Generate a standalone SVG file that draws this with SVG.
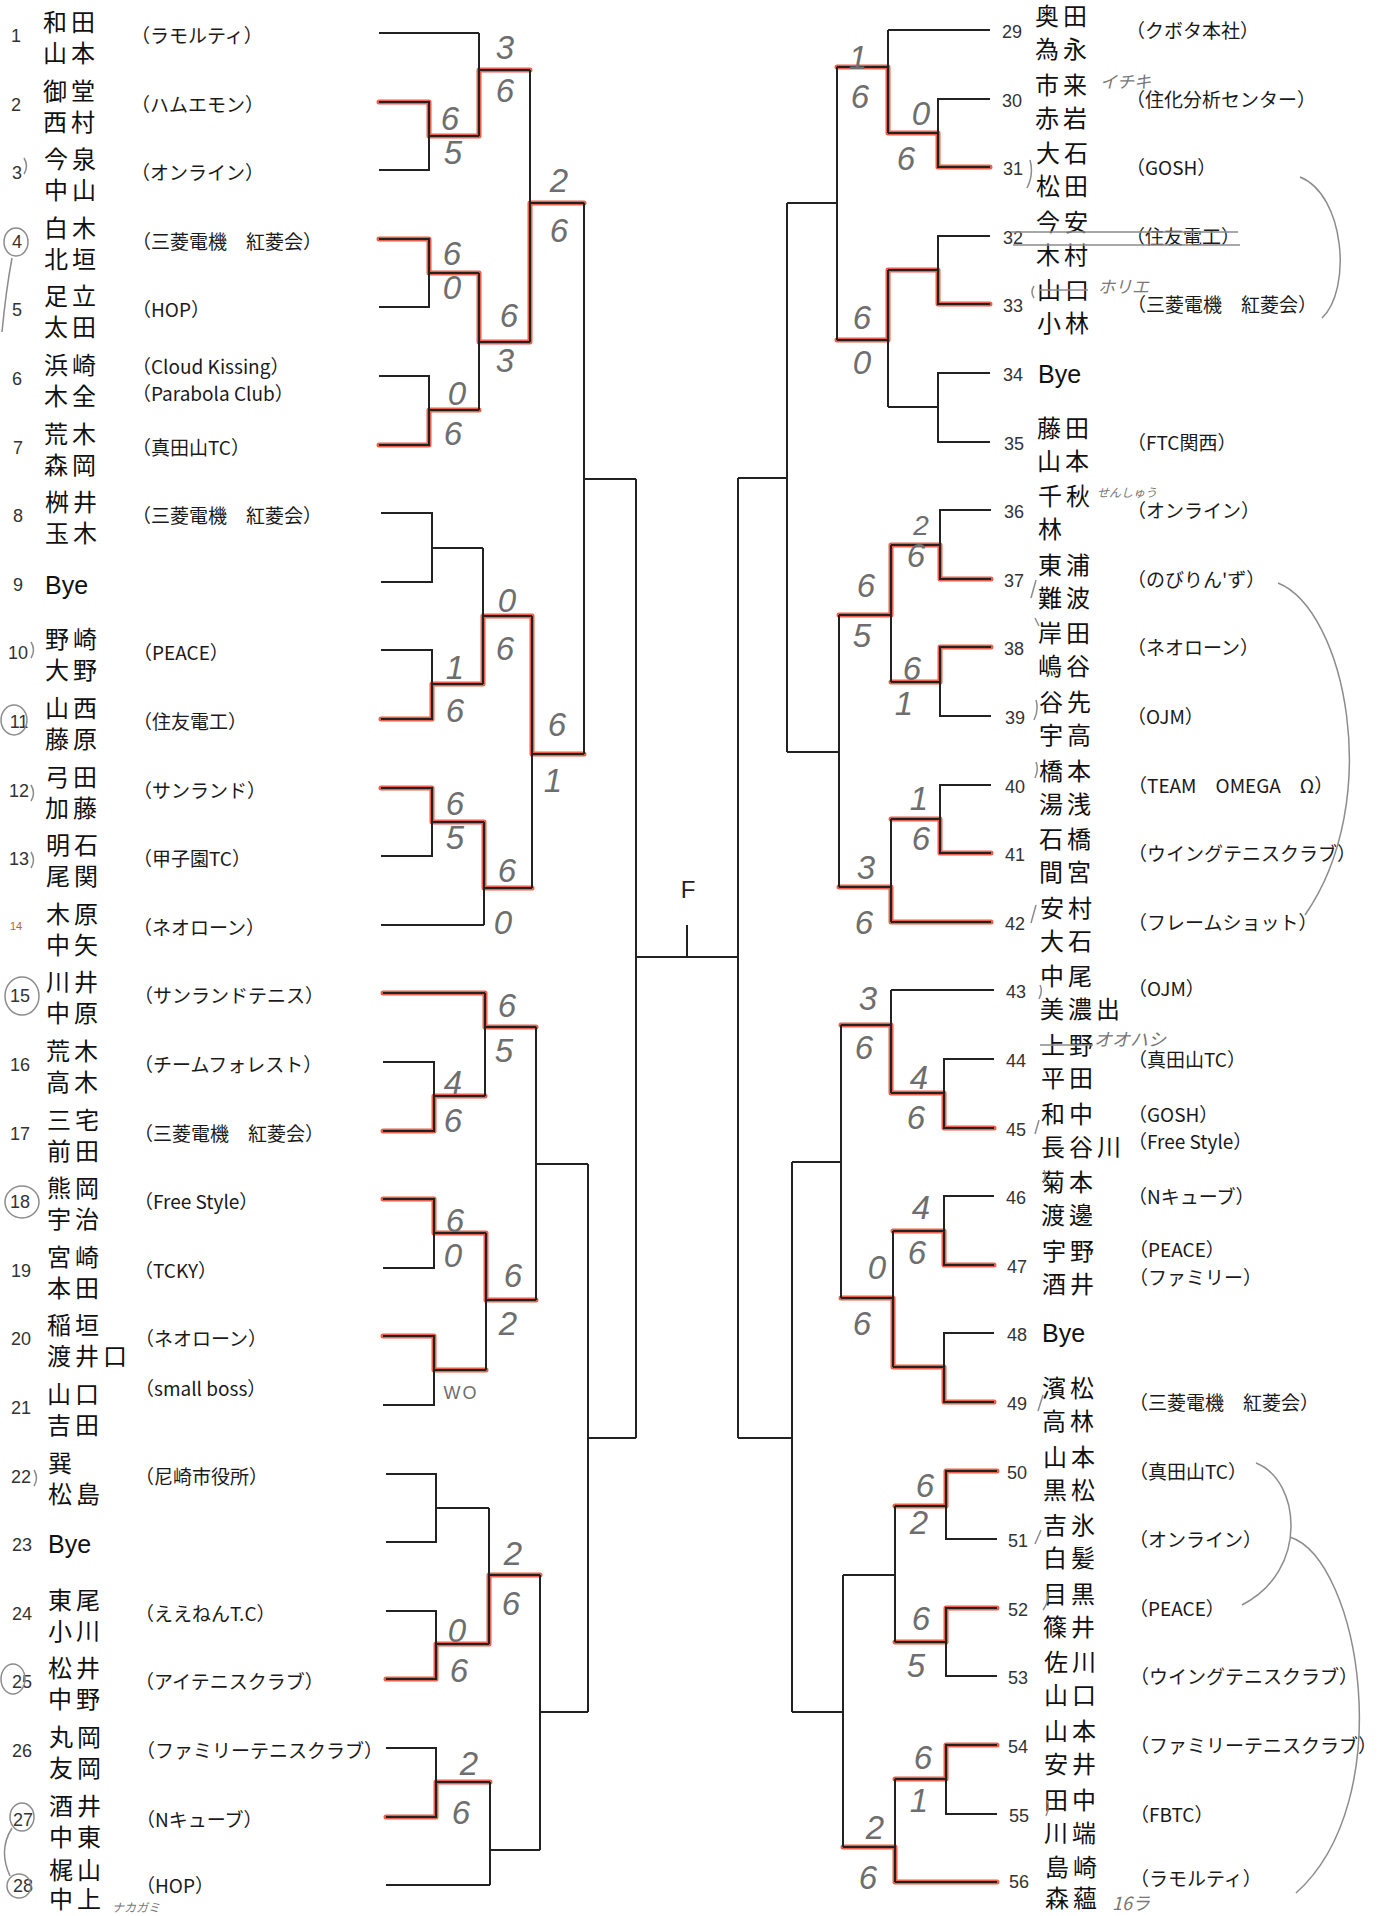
<svg xmlns="http://www.w3.org/2000/svg" width="1379" height="1916" viewBox="0 0 1379 1916">
<style>
.ln{fill:none;stroke:#222;stroke-width:2}
.rd{fill:none;stroke:#e8432b;stroke-width:5;stroke-linejoin:round;stroke-linecap:round;opacity:.85}
.nm{font-family:"Noto Sans CJK JP","Noto Sans CJK SC",sans-serif;font-size:24px;letter-spacing:4px;fill:#111}
.tm{font-family:"Noto Sans CJK JP","Noto Sans CJK SC",sans-serif;font-size:19px;fill:#1a1a1a}
.no{font-family:"Liberation Sans",Arial,sans-serif;font-size:18px;fill:#333;text-anchor:middle}
.bye{font-family:"Liberation Sans",Arial,sans-serif;font-size:25px;fill:#111}
.sc{font-family:"Liberation Sans",Arial,sans-serif;font-size:33px;fill:#6e6e6e;text-anchor:middle;font-style:italic}
.nt{fill:none;stroke:#8c8c8c;stroke-width:1.5}
.hw{font-family:"Noto Sans CJK JP","Noto Sans CJK SC",sans-serif;fill:#777;font-style:italic}
.fl{font-family:"Liberation Sans",Arial,sans-serif;font-size:24px;fill:#222;text-anchor:middle}
</style>
<rect width="1379" height="1916" fill="#fff"/>

<g id="connectors">
 <g id="winner-paths">
  <path class="rd" d="M379,102 H429 V136 H479 V70 H530"/>
  <path class="rd" d="M379,239 H429 V273 H479 V342 H530 V203 H584"/>
  <path class="rd" d="M379,445 H429 V410 H479"/>
  <path class="rd" d="M381,719 H432 V684 H483 V616 H532 V754 H584"/>
  <path class="rd" d="M381,788 H432 V822 H484 V888 H532"/>
  <path class="rd" d="M383,993 H485 V1027 H536"/>
  <path class="rd" d="M383,1131 H434 V1096 H485"/>
  <path class="rd" d="M383,1199 H434 V1233 H486 V1300 H536"/>
  <path class="rd" d="M383,1336 H434 V1370 H486"/>
  <path class="rd" d="M386,1679 H436 V1644 H489 V1575 H540"/>
  <path class="rd" d="M386,1817 H436 V1782 H490"/>
  <path class="rd" d="M990,167 H938 V133 H888 V67 H837"/>
  <path class="rd" d="M990,304 H938 V270 H888 V340 H837"/>
  <path class="rd" d="M991,579 H940 V545 H891 V615 H839"/>
  <path class="rd" d="M991,647 H940 V682 H891"/>
  <path class="rd" d="M991,853 H940 V819 H891"/>
  <path class="rd" d="M991,922 H891 V887 H839"/>
  <path class="rd" d="M994,1128 H944 V1093 H891 V1025 H841"/>
  <path class="rd" d="M994,1265 H944 V1231 H893"/>
  <path class="rd" d="M994,1402 H944 V1367 H893 V1298 H841"/>
  <path class="rd" d="M997,1471 H946 V1506 H895"/>
  <path class="rd" d="M997,1608 H946 V1642 H895"/>
  <path class="rd" d="M997,1745 H946 V1779 H895"/>
  <path class="rd" d="M997,1882 H895 V1847 H843"/>
 </g>
 <g id="bracket">
  <path class="ln" d="M379,33 H479 M379,102 H429 V170 H379 M429,136 H479 M479,33 V136 M479,70 H530"/>
  <path class="ln" d="M379,239 H429 V307 H379 M429,273 H479 M379,376 H429 V445 H379 M429,410 H479 M479,273 V410 M479,342 H530 M530,70 V342 M530,203 H584"/>
  <path class="ln" d="M381,513 H432 V582 H381 M432,548 H483 M381,650 H432 V719 H381 M432,684 H483 M483,548 V684 M483,616 H532"/>
  <path class="ln" d="M381,788 H432 V856 H381 M432,822 H484 M381,925 H484 M484,822 V925 M484,888 H532 M532,616 V888 M532,754 H584 M584,203 V754 M584,479 H636"/>
  <path class="ln" d="M383,993 H485 M383,1062 H434 V1131 H383 M434,1096 H485 M485,993 V1096 M485,1027 H536"/>
  <path class="ln" d="M383,1199 H434 V1268 H383 M434,1233 H486 M383,1336 H434 V1405 H383 M434,1370 H486 M486,1233 V1370 M486,1300 H536 M536,1027 V1300 M536,1164 H588"/>
  <path class="ln" d="M386,1474 H436 V1542 H386 M436,1508 H489 M386,1611 H436 V1679 H386 M436,1644 H489 M489,1508 V1644 M489,1575 H540"/>
  <path class="ln" d="M386,1748 H436 V1817 H386 M436,1782 H490 M386,1885 H490 M490,1782 V1885 M490,1850 H540 M540,1575 V1850 M540,1712 H588 M588,1164 V1712 M588,1438 H636"/>
  <path class="ln" d="M636,479 V1438 M636,957 H738 M687,925 V957 M738,478 V1438 M787,203 V752 M787,478 H738 M792,1162 V1712 M792,1438 H738"/>
  <path class="ln" d="M990,30 H888 M990,99 H938 V167 H990 M938,133 H888 M888,30 V133 M888,67 H837"/>
  <path class="ln" d="M990,236 H938 V304 H990 M938,270 H888 M990,373 H938 V442 H990 M938,407 H888 M888,270 V407 M888,340 H837 M837,67 V340 M837,203 H787"/>
  <path class="ln" d="M991,510 H940 V579 H991 M940,545 H891 M991,647 H940 V716 H991 M940,682 H891 M891,545 V682 M891,615 H839"/>
  <path class="ln" d="M991,785 H940 V853 H991 M940,819 H891 M991,922 H891 M891,819 V922 M891,887 H839 M839,615 V887 M839,752 H787"/>
  <path class="ln" d="M994,990 H891 M994,1059 H944 V1128 H994 M944,1093 H891 M891,990 V1093 M891,1025 H841"/>
  <path class="ln" d="M994,1196 H944 V1265 H994 M944,1231 H893 M994,1333 H944 V1402 H994 M944,1367 H893 M893,1231 V1367 M893,1298 H841 M841,1025 V1298 M841,1162 H792"/>
  <path class="ln" d="M997,1471 H946 V1539 H997 M946,1506 H895 M997,1608 H946 V1676 H997 M946,1642 H895 M895,1506 V1642 M895,1575 H843"/>
  <path class="ln" d="M997,1745 H946 V1814 H997 M946,1779 H895 M997,1882 H895 M895,1779 V1882 M895,1847 H843 M843,1575 V1847 M843,1712 H792"/>
 </g>
</g>

<g id="final"><text class="fl" x="688" y="898">F</text></g>

<g id="e01"><text class="no" x="16" y="42">1</text><text class="nm"><tspan x="43" y="31">和田</tspan><tspan x="43" y="62">山本</tspan></text><text class="tm" x="131" y="43">（ラモルティ）</text></g>
<g id="e02"><text class="no" x="16" y="111">2</text><text class="nm"><tspan x="43" y="100">御堂</tspan><tspan x="43" y="131">西村</tspan></text><text class="tm" x="131" y="112">（ハムエモン）</text></g>
<g id="e03"><text class="no" x="17" y="179">3</text><text class="nm"><tspan x="44" y="168">今泉</tspan><tspan x="44" y="199">中山</tspan></text><text class="tm" x="131" y="180">（オンライン）</text></g>
<g id="e04"><text class="no" x="17" y="248">4</text><text class="nm"><tspan x="44" y="237">白木</tspan><tspan x="44" y="268">北垣</tspan></text><text class="tm" x="132" y="249">（三菱電機　紅菱会）</text></g>
<g id="e05"><text class="no" x="17" y="316">5</text><text class="nm"><tspan x="44" y="305">足立</tspan><tspan x="44" y="336">太田</tspan></text><text class="tm" x="132" y="317">（HOP）</text></g>
<g id="e06"><text class="no" x="17" y="385">6</text><text class="nm"><tspan x="44" y="374">浜崎</tspan><tspan x="44" y="405">木全</tspan></text><text class="tm"><tspan x="132" y="374">（Cloud Kissing）</tspan><tspan x="132" y="401">（Parabola Club）</tspan></text></g>
<g id="e07"><text class="no" x="18" y="454">7</text><text class="nm"><tspan x="44" y="443">荒木</tspan><tspan x="44" y="474">森岡</tspan></text><text class="tm" x="132" y="455">（真田山TC）</text></g>
<g id="e08"><text class="no" x="18" y="522">8</text><text class="nm"><tspan x="45" y="511">桝井</tspan><tspan x="45" y="542">玉木</tspan></text><text class="tm" x="132" y="523">（三菱電機　紅菱会）</text></g>
<g id="e09"><text class="no" x="18" y="591">9</text><text class="bye" x="45" y="594">Bye</text></g>
<g id="e10"><text class="no" x="18" y="659">10</text><text class="nm"><tspan x="45" y="648">野崎</tspan><tspan x="45" y="679">大野</tspan></text><text class="tm" x="133" y="660">（PEACE）</text></g>
<g id="e11"><text class="no" x="19" y="728">11</text><text class="nm"><tspan x="45" y="717">山西</tspan><tspan x="45" y="748">藤原</tspan></text><text class="tm" x="133" y="729">（住友電工）</text></g>
<g id="e12"><text class="no" x="19" y="797">12</text><text class="nm"><tspan x="45" y="786">弓田</tspan><tspan x="45" y="817">加藤</tspan></text><text class="tm" x="133" y="798">（サンランド）</text></g>
<g id="e13"><text class="no" x="19" y="865">13</text><text class="nm"><tspan x="46" y="854">明石</tspan><tspan x="46" y="885">尾関</tspan></text><text class="tm" x="133" y="866">（甲子園TC）</text></g>
<g id="e14"><text class="no" x="16" y="930" style="font-size:11px;fill:#b8642a">14</text><text class="nm"><tspan x="46" y="923">木原</tspan><tspan x="46" y="954">中矢</tspan></text><text class="tm" x="133" y="935">（ネオローン）</text></g>
<g id="e15"><text class="no" x="20" y="1002">15</text><text class="nm"><tspan x="46" y="991">川井</tspan><tspan x="46" y="1022">中原</tspan></text><text class="tm" x="134" y="1003">（サンランドテニス）</text></g>
<g id="e16"><text class="no" x="20" y="1071">16</text><text class="nm"><tspan x="46" y="1060">荒木</tspan><tspan x="46" y="1091">高木</tspan></text><text class="tm" x="134" y="1072">（チームフォレスト）</text></g>
<g id="e17"><text class="no" x="20" y="1140">17</text><text class="nm"><tspan x="47" y="1129">三宅</tspan><tspan x="47" y="1160">前田</tspan></text><text class="tm" x="134" y="1141">（三菱電機　紅菱会）</text></g>
<g id="e18"><text class="no" x="20" y="1208">18</text><text class="nm"><tspan x="47" y="1197">熊岡</tspan><tspan x="47" y="1228">宇治</tspan></text><text class="tm" x="134" y="1209">（Free Style）</text></g>
<g id="e19"><text class="no" x="21" y="1277">19</text><text class="nm"><tspan x="47" y="1266">宮崎</tspan><tspan x="47" y="1297">本田</tspan></text><text class="tm" x="134" y="1278">（TCKY）</text></g>
<g id="e20"><text class="no" x="21" y="1345">20</text><text class="nm"><tspan x="47" y="1334">稲垣</tspan><tspan x="47" y="1365">渡井口</tspan></text><text class="tm" x="135" y="1346">（ネオローン）</text></g>
<g id="e21"><text class="no" x="21" y="1414">21</text><text class="nm"><tspan x="47" y="1403">山口</tspan><tspan x="47" y="1434">吉田</tspan></text><text class="tm" x="135" y="1396">（small boss）</text></g>
<g id="e22"><text class="no" x="21" y="1483">22</text><text class="nm"><tspan x="48" y="1472">巽</tspan><tspan x="48" y="1503">松島</tspan></text><text class="tm" x="135" y="1484">（尼崎市役所）</text></g>
<g id="e23"><text class="no" x="22" y="1551">23</text><text class="bye" x="48" y="1553">Bye</text></g>
<g id="e24"><text class="no" x="22" y="1620">24</text><text class="nm"><tspan x="48" y="1609">東尾</tspan><tspan x="48" y="1640">小川</tspan></text><text class="tm" x="135" y="1621">（ええねんT.C）</text></g>
<g id="e25"><text class="no" x="22" y="1688">25</text><text class="nm"><tspan x="48" y="1677">松井</tspan><tspan x="48" y="1708">中野</tspan></text><text class="tm" x="135" y="1689">（アイテニスクラブ）</text></g>
<g id="e26"><text class="no" x="22" y="1757">26</text><text class="nm"><tspan x="49" y="1746">丸岡</tspan><tspan x="49" y="1777">友岡</tspan></text><text class="tm" x="136" y="1758">（ファミリーテニスクラブ）</text></g>
<g id="e27"><text class="no" x="23" y="1826">27</text><text class="nm"><tspan x="49" y="1815">酒井</tspan><tspan x="49" y="1846">中東</tspan></text><text class="tm" x="136" y="1827">（Nキューブ）</text></g>
<g id="e28"><text class="no" x="23" y="1892">28</text><text class="nm"><tspan x="49" y="1879">梶山</tspan><tspan x="49" y="1908">中上</tspan></text><text class="tm" x="136" y="1893">（HOP）</text></g>

<g id="e29"><text class="no" x="1012" y="38">29</text><text class="nm"><tspan x="1035" y="25">奥田</tspan><tspan x="1035" y="58">為永</tspan></text><text class="tm" x="1126" y="38">（クボタ本社）</text></g>
<g id="e30"><text class="no" x="1012" y="107">30</text><text class="nm"><tspan x="1035" y="94">市来</tspan><tspan x="1035" y="127">赤岩</tspan></text><text class="tm" x="1126" y="107">（住化分析センター）</text></g>
<g id="e31"><text class="no" x="1013" y="175">31</text><text class="nm"><tspan x="1036" y="162">大石</tspan><tspan x="1036" y="195">松田</tspan></text><text class="tm" x="1126" y="175">（GOSH）</text></g>
<g id="e32"><text class="no" x="1013" y="244">32</text><text class="nm"><tspan x="1036" y="231">今安</tspan><tspan x="1036" y="264">木村</tspan></text><text class="tm" x="1126" y="244">（住友電工）</text></g>
<g id="e33"><text class="no" x="1013" y="312">33</text><text class="nm"><tspan x="1037" y="299">山口</tspan><tspan x="1037" y="332">小林</tspan></text><text class="tm" x="1127" y="312">（三菱電機　紅菱会）</text></g>
<g id="e34"><text class="no" x="1013" y="381">34</text><text class="bye" x="1038" y="383">Bye</text></g>
<g id="e35"><text class="no" x="1014" y="450">35</text><text class="nm"><tspan x="1037" y="437">藤田</tspan><tspan x="1037" y="470">山本</tspan></text><text class="tm" x="1127" y="450">（FTC関西）</text></g>
<g id="e36"><text class="no" x="1014" y="518">36</text><text class="nm"><tspan x="1038" y="505">千秋</tspan><tspan x="1038" y="538">林</tspan></text><text class="tm" x="1127" y="518">（オンライン）</text></g>
<g id="e37"><text class="no" x="1014" y="587">37</text><text class="nm"><tspan x="1038" y="574">東浦</tspan><tspan x="1038" y="607">難波</tspan></text><text class="tm" x="1127" y="587">（のびりん'ず）</text></g>
<g id="e38"><text class="no" x="1014" y="655">38</text><text class="nm"><tspan x="1038" y="642">岸田</tspan><tspan x="1038" y="675">嶋谷</tspan></text><text class="tm" x="1127" y="655">（ネオローン）</text></g>
<g id="e39"><text class="no" x="1015" y="724">39</text><text class="nm"><tspan x="1039" y="711">谷先</tspan><tspan x="1039" y="744">宇高</tspan></text><text class="tm" x="1127" y="724">（OJM）</text></g>
<g id="e40"><text class="no" x="1015" y="793">40</text><text class="nm"><tspan x="1039" y="780">橋本</tspan><tspan x="1039" y="813">湯浅</tspan></text><text class="tm" x="1128" y="793">（TEAM　OMEGA　Ω）</text></g>
<g id="e41"><text class="no" x="1015" y="861">41</text><text class="nm"><tspan x="1039" y="848">石橋</tspan><tspan x="1039" y="881">間宮</tspan></text><text class="tm" x="1128" y="861">（ウイングテニスクラブ）</text></g>
<g id="e42"><text class="no" x="1015" y="930">42</text><text class="nm"><tspan x="1040" y="917">安村</tspan><tspan x="1040" y="950">大石</tspan></text><text class="tm" x="1128" y="930">（フレームショット）</text></g>
<g id="e43"><text class="no" x="1016" y="998">43</text><text class="nm"><tspan x="1040" y="985">中尾</tspan><tspan x="1040" y="1018">美濃出</tspan></text><text class="tm" x="1128" y="996">（OJM）</text></g>
<g id="e44"><text class="no" x="1016" y="1067">44</text><text class="nm"><tspan x="1041" y="1054">上野</tspan><tspan x="1041" y="1087">平田</tspan></text><text class="tm" x="1128" y="1067">（真田山TC）</text></g>
<g id="e45"><text class="no" x="1016" y="1136">45</text><text class="nm"><tspan x="1041" y="1123">和中</tspan><tspan x="1041" y="1156">長谷川</tspan></text><text class="tm"><tspan x="1128" y="1122">（GOSH）</tspan><tspan x="1128" y="1149">（Free Style）</tspan></text></g>
<g id="e46"><text class="no" x="1016" y="1204">46</text><text class="nm"><tspan x="1041" y="1191">菊本</tspan><tspan x="1041" y="1224">渡邊</tspan></text><text class="tm" x="1128" y="1204">（Nキューブ）</text></g>
<g id="e47"><text class="no" x="1017" y="1273">47</text><text class="nm"><tspan x="1042" y="1260">宇野</tspan><tspan x="1042" y="1293">酒井</tspan></text><text class="tm"><tspan x="1129" y="1257">（PEACE）</tspan><tspan x="1129" y="1285">（ファミリー）</tspan></text></g>
<g id="e48"><text class="no" x="1017" y="1341">48</text><text class="bye" x="1042" y="1342">Bye</text></g>
<g id="e49"><text class="no" x="1017" y="1410">49</text><text class="nm"><tspan x="1042" y="1397">濱松</tspan><tspan x="1042" y="1430">高林</tspan></text><text class="tm" x="1129" y="1410">（三菱電機　紅菱会）</text></g>
<g id="e50"><text class="no" x="1017" y="1479">50</text><text class="nm"><tspan x="1043" y="1466">山本</tspan><tspan x="1043" y="1499">黒松</tspan></text><text class="tm" x="1129" y="1479">（真田山TC）</text></g>
<g id="e51"><text class="no" x="1018" y="1547">51</text><text class="nm"><tspan x="1043" y="1534">吉氷</tspan><tspan x="1043" y="1567">白髪</tspan></text><text class="tm" x="1129" y="1547">（オンライン）</text></g>
<g id="e52"><text class="no" x="1018" y="1616">52</text><text class="nm"><tspan x="1043" y="1603">目黒</tspan><tspan x="1043" y="1636">篠井</tspan></text><text class="tm" x="1129" y="1616">（PEACE）</text></g>
<g id="e53"><text class="no" x="1018" y="1684">53</text><text class="nm"><tspan x="1044" y="1671">佐川</tspan><tspan x="1044" y="1704">山口</tspan></text><text class="tm" x="1130" y="1684">（ウイングテニスクラブ）</text></g>
<g id="e54"><text class="no" x="1018" y="1753">54</text><text class="nm"><tspan x="1044" y="1740">山本</tspan><tspan x="1044" y="1773">安井</tspan></text><text class="tm" x="1130" y="1753">（ファミリーテニスクラブ）</text></g>
<g id="e55"><text class="no" x="1019" y="1822">55</text><text class="nm"><tspan x="1044" y="1809">田中</tspan><tspan x="1044" y="1842">川端</tspan></text><text class="tm" x="1130" y="1822">（FBTC）</text></g>
<g id="e56"><text class="no" x="1019" y="1888">56</text><text class="nm"><tspan x="1045" y="1876">島崎</tspan><tspan x="1045" y="1907">森蘊</tspan></text><text class="tm" x="1130" y="1886">（ラモルティ）</text></g>

<g id="scores">
 <text class="sc" x="505" y="59">3</text><text class="sc" x="505" y="102">6</text>
 <text class="sc" x="450" y="130">6</text><text class="sc" x="453" y="164">5</text>
 <text class="sc" x="559" y="192">2</text><text class="sc" x="559" y="242">6</text>
 <text class="sc" x="452" y="265">6</text><text class="sc" x="452" y="299">0</text>
 <text class="sc" x="509" y="327">6</text><text class="sc" x="505" y="372">3</text>
 <text class="sc" x="457" y="405">0</text><text class="sc" x="453" y="445">6</text>
 <text class="sc" x="507" y="612">0</text><text class="sc" x="505" y="660">6</text>
 <text class="sc" x="455" y="679">1</text><text class="sc" x="455" y="722">6</text>
 <text class="sc" x="557" y="736">6</text><text class="sc" x="553" y="792">1</text>
 <text class="sc" x="455" y="815">6</text><text class="sc" x="455" y="849">5</text>
 <text class="sc" x="507" y="882">6</text><text class="sc" x="503" y="934">0</text>
 <text class="sc" x="507" y="1017">6</text><text class="sc" x="504" y="1062">5</text>
 <text class="sc" x="453" y="1094">4</text><text class="sc" x="453" y="1132">6</text>
 <text class="sc" x="455" y="1232">6</text><text class="sc" x="453" y="1267">0</text>
 <text class="sc" x="513" y="1287">6</text><text class="sc" x="508" y="1335">2</text>
 <text class="sc" x="461" y="1399" style="font-size:18px;letter-spacing:2px;font-style:normal">WO</text>
 <text class="sc" x="513" y="1565">2</text><text class="sc" x="511" y="1615">6</text>
 <text class="sc" x="457" y="1642">0</text><text class="sc" x="459" y="1682">6</text>
 <text class="sc" x="469" y="1775">2</text><text class="sc" x="461" y="1824">6</text>
 <text class="sc" x="858" y="69">1</text><text class="sc" x="860" y="108">6</text>
 <text class="sc" x="921" y="125">0</text><text class="sc" x="906" y="170">6</text>
 <text class="sc" x="862" y="329">6</text><text class="sc" x="862" y="374">0</text>
 <text class="sc" x="921" y="535" style="font-size:28px">2</text><text class="sc" x="916" y="567">6</text>
 <text class="sc" x="866" y="597">6</text><text class="sc" x="862" y="647">5</text>
 <text class="sc" x="912" y="680">6</text><text class="sc" x="904" y="715">1</text>
 <text class="sc" x="919" y="810">1</text><text class="sc" x="921" y="850">6</text>
 <text class="sc" x="866" y="879">3</text><text class="sc" x="864" y="934">6</text>
 <text class="sc" x="868" y="1010">3</text><text class="sc" x="864" y="1059">6</text>
 <text class="sc" x="919" y="1089">4</text><text class="sc" x="916" y="1129">6</text>
 <text class="sc" x="921" y="1219">4</text><text class="sc" x="917" y="1264">6</text>
 <text class="sc" x="877" y="1279">0</text><text class="sc" x="862" y="1335">6</text>
 <text class="sc" x="925" y="1497">6</text><text class="sc" x="919" y="1534">2</text>
 <text class="sc" x="921" y="1630">6</text><text class="sc" x="916" y="1677">5</text>
 <text class="sc" x="923" y="1769">6</text><text class="sc" x="919" y="1812">1</text>
 <text class="sc" x="875" y="1839">2</text><text class="sc" x="868" y="1889">6</text>
</g>

<g id="notes">
 <path class="nt" d="M1011,232 H1238 M1013,245 H1240 M1040,290 H1088 M1040,1045 H1093"/>
 <text class="hw" x="1100" y="88" font-size="17">イチキ</text>
 <text class="hw" x="1098" y="293" font-size="17">ホリエ</text>
 <text class="hw" x="1097" y="497" font-size="12">せんしゅう</text>
 <text class="hw" x="1094" y="1046" font-size="18">オオハシ</text>
 <text class="hw" x="112" y="1912" font-size="12">ナカガミ</text>
 <text class="hw" x="1112" y="1910" font-size="18">16ラ</text>
 <ellipse class="nt" cx="16" cy="242" rx="12" ry="14"/>
 <path class="nt" d="M12,258 Q6,290 2,332"/>
 <ellipse class="nt" cx="14" cy="720" rx="13" ry="15"/>
 <ellipse class="nt" cx="22" cy="996" rx="17" ry="19"/>
 <ellipse class="nt" cx="22" cy="1202" rx="17" ry="16"/>
 <ellipse class="nt" cx="13" cy="1679" rx="12" ry="15"/>
 <ellipse class="nt" cx="22" cy="1817" rx="12" ry="14"/>
 <ellipse class="nt" cx="19" cy="1886" rx="12" ry="12"/>
 <path class="nt" d="M12,1828 Q-2,1850 10,1876"/>
 <path class="nt" d="M24,158 q5,8 0,16 M31,642 q5,8 0,16 M31,785 q5,8 0,16 M31,852 q5,8 0,16 M34,1470 q5,8 0,16"/>
 <path class="nt" d="M1300,177 C1345,195 1352,290 1322,318"/>
 <path class="nt" d="M1278,583 C1345,610 1385,800 1305,915"/>
 <path class="nt" d="M1256,1463 C1300,1480 1310,1570 1242,1605"/>
 <path class="nt" d="M1290,1537 C1360,1560 1400,1800 1296,1893"/>
 <path class="nt" d="M1030,160 q4,14 -3,28 M1034,286 q-4,6 0,12 M1036,580 l-5,18 M1035,618 l4,8 M1036,700 q3,10 -2,20 M1036,762 q3,8 -1,16 M1036,905 l-5,18 M1040,985 q3,6 -1,14 M1039,1120 l-4,14 M1044,1170 q3,6 -1,12 M1043,1395 l-5,16 M1041,1530 l-6,14 M1047,1592 q3,8 -4,18 M1047,1800 q3,8 -1,16"/>
</g>
</svg>
